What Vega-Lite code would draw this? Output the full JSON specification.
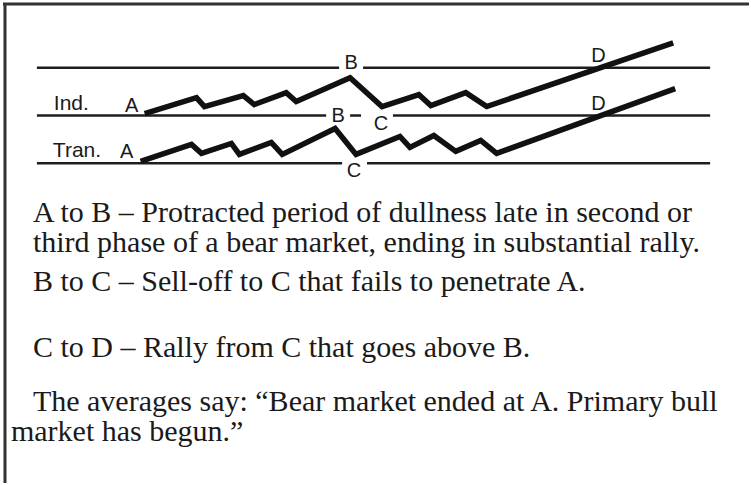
{
  "$schema": "https://vega.github.io/schema/vega-lite/v6.json",
  "width": 751,
  "height": 485,
  "autosize": {"type": "fit", "contains": "padding"},
  "padding": 0,
  "background": "white",
  "config": {"view": {"stroke": null}},
  "datasets": {
    "frame": [
      {"x": 3, "x2": 751, "y": 4, "y2": 4},
      {"x": 5, "x2": 5, "y": 3, "y2": 485}
    ],
    "levels": [
      {"line": "top", "x": 37, "x2": 340, "y": 68},
      {"line": "top", "x": 364, "x2": 712, "y": 68},
      {"line": "mid", "x": 37, "x2": 327, "y": 116},
      {"line": "mid", "x": 351, "x2": 362, "y": 116},
      {"line": "mid", "x": 394, "x2": 712, "y": 116},
      {"line": "bottom", "x": 37, "x2": 343, "y": 164},
      {"line": "bottom", "x": 368, "x2": 712, "y": 164}
    ],
    "averages": [
      {"series": "Ind.", "i": 0, "x": 145, "y": 114},
      {"series": "Ind.", "i": 1, "x": 197, "y": 98},
      {"series": "Ind.", "i": 2, "x": 205, "y": 107},
      {"series": "Ind.", "i": 3, "x": 244, "y": 96},
      {"series": "Ind.", "i": 4, "x": 255, "y": 105},
      {"series": "Ind.", "i": 5, "x": 287, "y": 93},
      {"series": "Ind.", "i": 6, "x": 297, "y": 102},
      {"series": "Ind.", "i": 7, "x": 351, "y": 78},
      {"series": "Ind.", "i": 8, "x": 383, "y": 107},
      {"series": "Ind.", "i": 9, "x": 420, "y": 95},
      {"series": "Ind.", "i": 10, "x": 432, "y": 106},
      {"series": "Ind.", "i": 11, "x": 467, "y": 93},
      {"series": "Ind.", "i": 12, "x": 488, "y": 107},
      {"series": "Ind.", "i": 13, "x": 675, "y": 43},
      {"series": "Tran.", "i": 0, "x": 141, "y": 162},
      {"series": "Tran.", "i": 1, "x": 192, "y": 145},
      {"series": "Tran.", "i": 2, "x": 202, "y": 154},
      {"series": "Tran.", "i": 3, "x": 232, "y": 144},
      {"series": "Tran.", "i": 4, "x": 240, "y": 155},
      {"series": "Tran.", "i": 5, "x": 272, "y": 143},
      {"series": "Tran.", "i": 6, "x": 283, "y": 155},
      {"series": "Tran.", "i": 7, "x": 336, "y": 129},
      {"series": "Tran.", "i": 8, "x": 357, "y": 155},
      {"series": "Tran.", "i": 9, "x": 401, "y": 137},
      {"series": "Tran.", "i": 10, "x": 411, "y": 148},
      {"series": "Tran.", "i": 11, "x": 435, "y": 136},
      {"series": "Tran.", "i": 12, "x": 457, "y": 152},
      {"series": "Tran.", "i": 13, "x": 482, "y": 141},
      {"series": "Tran.", "i": 14, "x": 498, "y": 154},
      {"series": "Tran.", "i": 15, "x": 677, "y": 89}
    ],
    "labels": [
      {"text": "Ind.", "x": 54, "y": 110, "align": "left"},
      {"text": "Tran.", "x": 53, "y": 158, "align": "left"},
      {"text": "A", "x": 132, "y": 112, "align": "center"},
      {"text": "A", "x": 127, "y": 159, "align": "center"},
      {"text": "B", "x": 352, "y": 69, "align": "center"},
      {"text": "B", "x": 339, "y": 123, "align": "center"},
      {"text": "C", "x": 382, "y": 131, "align": "center"},
      {"text": "C", "x": 355, "y": 178, "align": "center"},
      {"text": "D", "x": 600, "y": 62, "align": "center"},
      {"text": "D", "x": 600, "y": 110, "align": "center"}
    ],
    "notes": [
      {"text": "A to B – Protracted period of dullness late in second or", "x": 33, "y": 223},
      {"text": "third phase of a bear market, ending in substantial rally.", "x": 33, "y": 253},
      {"text": "B to C – Sell-off to C that fails to penetrate A.", "x": 33, "y": 292},
      {"text": "C to D – Rally from C that goes above B.", "x": 33, "y": 358},
      {"text": "The averages say: “Bear market ended at A. Primary bull", "x": 33, "y": 413},
      {"text": "market has begun.”", "x": 11, "y": 443}
    ]
  },
  "layer": [
    {
      "data": {"name": "frame"},
      "mark": {"type": "rule", "stroke": "#333333", "strokeWidth": 3},
      "encoding": {
        "x": {"field": "x", "type": "quantitative", "scale": {"domain": [0, 751], "nice": false, "zero": false}, "axis": null},
        "x2": {"field": "x2"},
        "y": {"field": "y", "type": "quantitative", "scale": {"domain": [0, 485], "nice": false, "zero": false, "reverse": true}, "axis": null},
        "y2": {"field": "y2"}
      }
    },
    {
      "data": {"name": "levels"},
      "mark": {"type": "rule", "stroke": "#1e1e1e", "strokeWidth": 2.5},
      "encoding": {
        "x": {"field": "x", "type": "quantitative"},
        "x2": {"field": "x2"},
        "y": {"field": "y", "type": "quantitative"}
      }
    },
    {
      "data": {"name": "averages"},
      "mark": {"type": "line", "stroke": "#111111", "strokeWidth": 5.5, "strokeJoin": "miter", "strokeCap": "butt"},
      "encoding": {
        "x": {"field": "x", "type": "quantitative"},
        "y": {"field": "y", "type": "quantitative"},
        "detail": {"field": "series"},
        "order": {"field": "i", "type": "quantitative"}
      }
    },
    {
      "data": {"name": "labels"},
      "transform": [{"filter": "datum.align === 'left'"}],
      "mark": {"type": "text", "font": "Liberation Sans", "fontSize": 21, "align": "left", "baseline": "alphabetic", "color": "#1a1a1a"},
      "encoding": {
        "x": {"field": "x", "type": "quantitative"},
        "y": {"field": "y", "type": "quantitative"},
        "text": {"field": "text"}
      }
    },
    {
      "data": {"name": "labels"},
      "transform": [{"filter": "datum.align === 'center'"}],
      "mark": {"type": "text", "font": "Liberation Sans", "fontSize": 20, "align": "center", "baseline": "alphabetic", "color": "#1a1a1a"},
      "encoding": {
        "x": {"field": "x", "type": "quantitative"},
        "y": {"field": "y", "type": "quantitative"},
        "text": {"field": "text"}
      }
    },
    {
      "data": {"name": "notes"},
      "mark": {"type": "text", "font": "Liberation Serif", "fontSize": 30, "align": "left", "baseline": "alphabetic", "color": "#1a1a1a"},
      "encoding": {
        "x": {"field": "x", "type": "quantitative"},
        "y": {"field": "y", "type": "quantitative"},
        "text": {"field": "text"}
      }
    }
  ]
}
